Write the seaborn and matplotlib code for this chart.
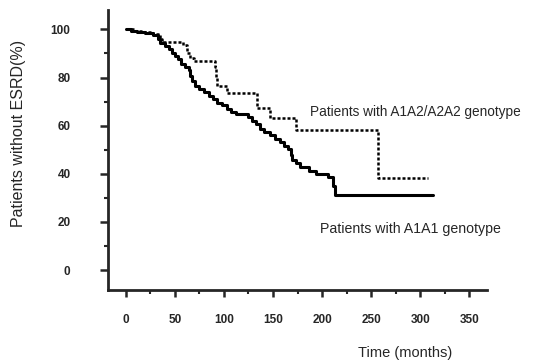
import matplotlib
matplotlib.use("Agg")
import matplotlib.pyplot as plt
from matplotlib.ticker import MultipleLocator
import pandas as pd
import seaborn as sns

# Kaplan-Meier style step data
# Patients with A1A1 genotype (solid)
a1a1_months = [0, 5, 12, 20, 28, 33, 35, 40, 44, 47, 50, 53, 56, 60, 64, 66,
               68, 71, 75, 80, 85, 89, 93, 98, 103, 107, 112, 125, 129, 133,
               137, 141, 147, 152, 157, 161, 165, 168, 169.5, 173, 178, 187,
               194, 206, 211, 213, 313]
a1a1_pct = [100, 99.5, 99, 98.5, 97.5, 96, 94.2, 93, 92, 90, 89, 87.5, 85.5,
            84.5, 83, 80.5, 78.5, 76.5, 75.3, 74.2, 72.5, 71, 69.5, 68.5, 67,
            65.5, 64.8, 63.8, 62, 60.5, 58.8, 57.3, 56, 54.6, 53.2, 51.7, 50.2,
            48, 45.6, 44.3, 43, 41.3, 40, 38.6, 35, 31.1, 31.1]

# Patients with A1A2/A2A2 genotype (dotted)
a2_months = [0, 8, 18, 28, 35, 37, 58, 62, 66, 70, 91, 92, 93, 103, 134, 147,
             173, 257, 308]
a2_pct = [100, 99.4, 98.8, 98, 96, 94.6, 93.4, 90, 88, 86.7, 84.2, 80, 76.3,
          73.4, 67.2, 63.1, 58.1, 38.2, 38.2]

x_ticks = [0, 50, 100, 150, 200, 250, 300, 350]
y_ticks = [0, 20, 40, 60, 80, 100]

sns.set_style("ticks")
plt.rcParams["font.family"] = ["Liberation Sans", "DejaVu Sans"]

df_a1a1 = pd.DataFrame({"months": a1a1_months, "pct": a1a1_pct})
df_a2 = pd.DataFrame({"months": a2_months, "pct": a2_pct})

fig = plt.figure(figsize=(5.4, 3.63), dpi=100)
ax = fig.add_axes([0.2, 0.201, 0.702, 0.771])

sns.lineplot(data=df_a1a1, x="months", y="pct", drawstyle="steps-post",
             color="black", linewidth=2.2, ax=ax)
sns.lineplot(data=df_a2, x="months", y="pct", drawstyle="steps-post",
             color="black", linewidth=1.8, linestyle=(0, (1.2, 0.8)), ax=ax)

ax.set_xlim(-18, 368)
ax.set_ylim(-8.3, 108)
ax.set_xticks(x_ticks)
ax.set_yticks(y_ticks)
ax.xaxis.set_minor_locator(MultipleLocator(25))
ax.yaxis.set_minor_locator(MultipleLocator(10))
ax.tick_params(which="major", length=5, width=1.8, labelsize=8.5)
ax.tick_params(axis="x", which="major", pad=12)
ax.tick_params(axis="y", which="major", length=6, pad=21)
ax.tick_params(which="minor", length=3, width=1.5)
for lab in ax.get_xticklabels() + ax.get_yticklabels():
    lab.set_fontweight("bold")

sns.despine(ax=ax)
ax.spines["left"].set_linewidth(2)
ax.spines["bottom"].set_linewidth(2)

ax.set_ylabel("Patients without ESRD(%)", fontsize=11.5)
ax.yaxis.set_label_coords(-0.215, 0.56)
ax.set_xlabel("Time (months)", fontsize=10.5)
ax.xaxis.set_label_coords(0.784, -0.2)

ax.text(188, 65.6, "Patients with A1A2/A2A2 genotype", fontsize=9.8,
        va="center", ha="left")
ax.text(198, 17.2, "Patients with A1A1 genotype", fontsize=10.2,
        va="center", ha="left")

fig.savefig("out.png", dpi=100)
